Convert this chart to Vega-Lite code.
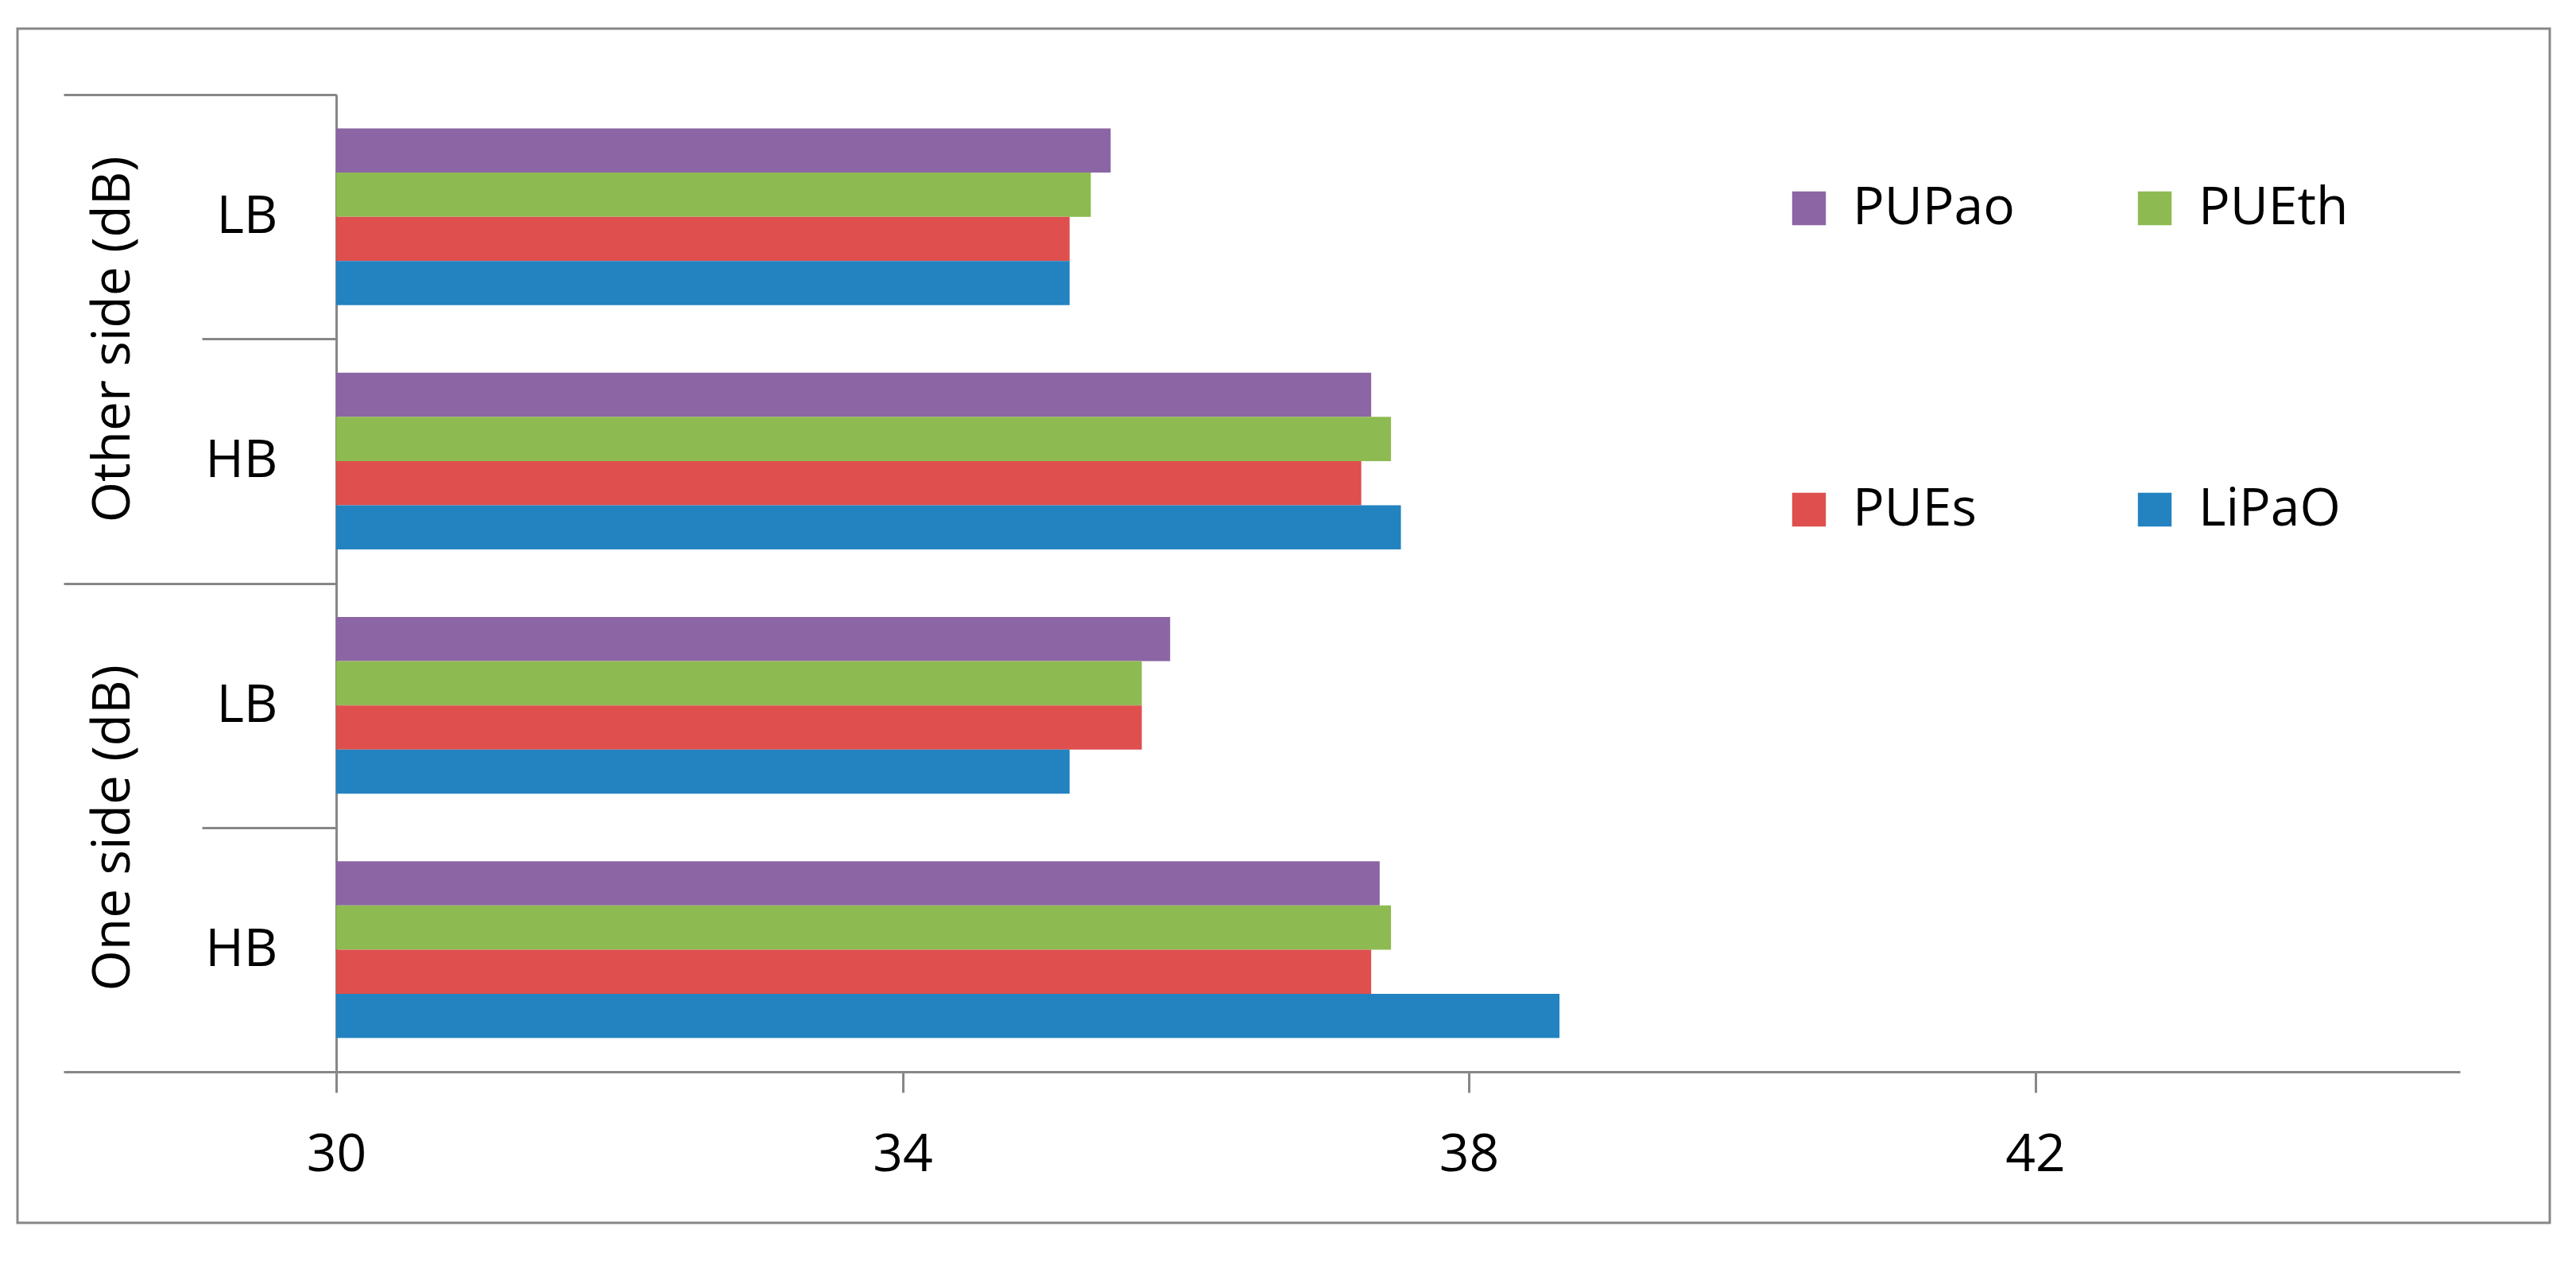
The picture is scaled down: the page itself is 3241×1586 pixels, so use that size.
{
  "$schema": "https://vega.github.io/schema/vega-lite/v6.json",
  "width": 3186,
  "height": 1502,
  "autosize": {"type": "none"},
  "padding": {"left": 22, "top": 36, "right": 33, "bottom": 48},
  "background": "white",
  "config": {
    "font": "Open Sans",
    "view": {"stroke": "#878787", "strokeWidth": 3},
    "axis": {"grid": false, "title": null}
  },
  "data": {
    "values": [
      {"side": "Other side (dB)", "cat": "Other side (dB)|LB", "series": "PUPao", "value": 35.47},
      {"side": "Other side (dB)", "cat": "Other side (dB)|LB", "series": "PUEth", "value": 35.33},
      {"side": "Other side (dB)", "cat": "Other side (dB)|LB", "series": "PUEs", "value": 35.18},
      {"side": "Other side (dB)", "cat": "Other side (dB)|LB", "series": "LiPaO", "value": 35.18},
      {"side": "Other side (dB)", "cat": "Other side (dB)|HB", "series": "PUPao", "value": 37.31},
      {"side": "Other side (dB)", "cat": "Other side (dB)|HB", "series": "PUEth", "value": 37.45},
      {"side": "Other side (dB)", "cat": "Other side (dB)|HB", "series": "PUEs", "value": 37.24},
      {"side": "Other side (dB)", "cat": "Other side (dB)|HB", "series": "LiPaO", "value": 37.52},
      {"side": "One side (dB)", "cat": "One side (dB)|LB", "series": "PUPao", "value": 35.89},
      {"side": "One side (dB)", "cat": "One side (dB)|LB", "series": "PUEth", "value": 35.69},
      {"side": "One side (dB)", "cat": "One side (dB)|LB", "series": "PUEs", "value": 35.69},
      {"side": "One side (dB)", "cat": "One side (dB)|LB", "series": "LiPaO", "value": 35.18},
      {"side": "One side (dB)", "cat": "One side (dB)|HB", "series": "PUPao", "value": 37.37},
      {"side": "One side (dB)", "cat": "One side (dB)|HB", "series": "PUEth", "value": 37.45},
      {"side": "One side (dB)", "cat": "One side (dB)|HB", "series": "PUEs", "value": 37.31},
      {"side": "One side (dB)", "cat": "One side (dB)|HB", "series": "LiPaO", "value": 38.64}
    ]
  },
  "layer": [
    {
      "mark": {"type": "bar"},
      "encoding": {
        "y": {
          "field": "cat", "type": "nominal",
          "sort": ["Other side (dB)|LB", "Other side (dB)|HB", "One side (dB)|LB", "One side (dB)|HB"],
          "scale": {"range": [83, 1312], "paddingInner": 0.277, "paddingOuter": 0.1385},
          "axis": {
            "orient": "left", "offset": -401,
            "labelExpr": "split(datum.value, '|')[1]",
            "bandPosition": 0, "tickOffset": -42.5, "tickExtra": false,
            "tickSize": 169, "tickColor": "#878787", "tickWidth": 3,
            "domainColor": "#878787", "domainWidth": 3,
            "labelFontSize": 66, "labelColor": "black", "labelAlign": "right", "labelBaseline": "middle",
            "labelPadding": -95, "labelOffset": 42.5, "labelOverlap": false, "labelLimit": 1000
          }
        },
        "yOffset": {
          "field": "series", "type": "nominal",
          "sort": ["PUPao", "PUEth", "PUEs", "LiPaO"],
          "scale": {"paddingInner": 0, "paddingOuter": 0}
        },
        "x": {
          "field": "value", "type": "quantitative",
          "scale": {"domain": [30, 45], "range": [401, 3073], "nice": false, "zero": false},
          "axis": {
            "orient": "bottom", "offset": -190, "values": [30, 34, 38, 42],
            "tickSize": 26, "tickColor": "#878787", "tickWidth": 3,
            "domainColor": "#878787", "domainWidth": 3,
            "labelFontSize": 66, "labelColor": "black", "labelPadding": 46, "labelFlush": false
          }
        },
        "x2": {"datum": 30},
        "color": {
          "field": "series", "type": "nominal",
          "scale": {"domain": ["PUPao", "PUEth", "PUEs", "LiPaO"], "range": ["#8B65A4", "#8EBB51", "#DE4F4E", "#2382C0"]},
          "legend": {
            "title": null, "orient": "none", "legendX": 2221, "legendY": 193,
            "direction": "horizontal", "columns": 2, "padding": 0, "rowPadding": 313, "columnPadding": 143,
            "symbolType": "square", "symbolSize": 1800, "symbolStrokeWidth": 0, "symbolOpacity": 1,
            "labelFontSize": 66, "labelColor": "black", "labelOffset": 22, "labelLimit": 1000
          }
        }
      }
    },
    {
      "mark": {"type": "bar", "opacity": 0},
      "encoding": {
        "y": {
          "field": "side", "type": "nominal",
          "sort": ["Other side (dB)", "One side (dB)"],
          "scale": {"range": [83, 1312], "paddingInner": 0, "paddingOuter": 0},
          "axis": {
            "orient": "left", "offset": -401, "domain": false,
            "tickBand": "extent", "tickSize": 343, "tickColor": "#878787", "tickWidth": 3,
            "labelFontSize": 66, "labelColor": "black", "labelAngle": 270, "labelAlign": "center", "labelBaseline": "middle",
            "labelPadding": -62, "labelOverlap": false, "labelLimit": 1000
          }
        }
      }
    }
  ],
  "resolve": {"scale": {"y": "independent"}, "axis": {"y": "independent"}}
}
